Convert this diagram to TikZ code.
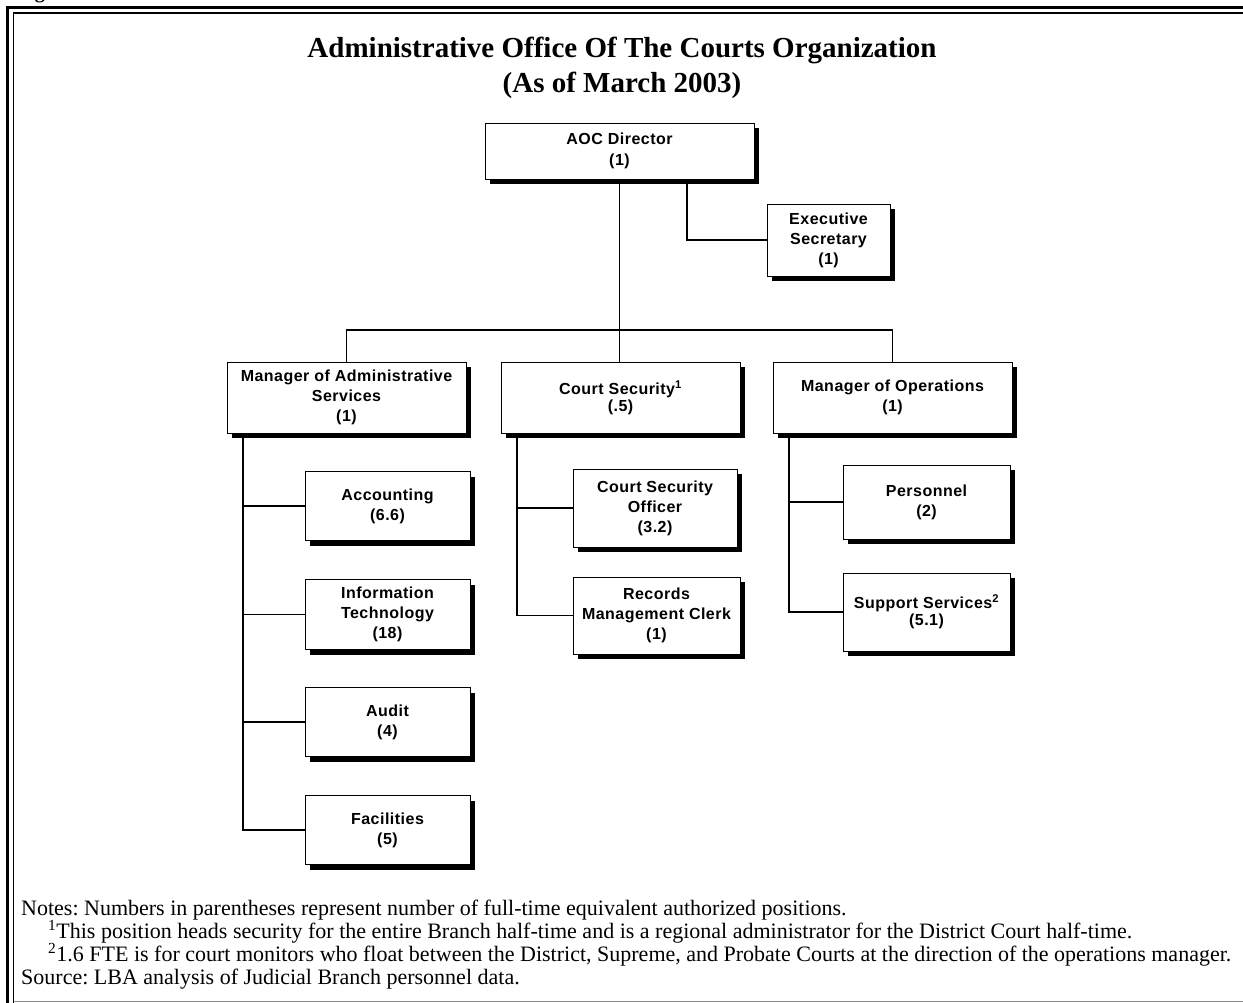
\documentclass[tikz,border=0pt]{standalone}
\usepackage{fontspec}
\setmainfont{Liberation Serif}
\newfontfamily\boxfont[LetterSpace=3]{Liberation Sans}
\usetikzlibrary{shadows}

\tikzset{
  orgbox/.style={draw, line width=0.9pt, fill=white, align=center,
    inner sep=0pt, font=\boxfont\bfseries\fontsize{16}{20}\selectfont,
    drop shadow={shadow xshift=5pt, shadow yshift=-5pt, fill=black, opacity=1}},
  link/.style={line width=1.7pt},
  notetext/.style={anchor=base west, inner sep=0pt,
    font=\frenchspacing\fontsize{22}{24}\selectfont},
}

\begin{document}
\begin{tikzpicture}[x=1pt, y=-1pt]
\useasboundingbox (0,0) rectangle (1243,1003);

% caption above the frame (only its descender reaches the page)
\node[anchor=base west, inner sep=0pt, font=\bfseries\fontsize{20}{24}\selectfont]
  (caption) at (17,-1) {Figure 4};

% page frame: heavy outer rule, thin inner rule, grey foot rule
\draw[line width=3pt] (7.5,1003) -- (7.5,7.5) -- (1243,7.5);
\draw[line width=1.5pt] (13.5,1003) -- (13.5,13) -- (1243,13);
\draw[line width=1.5pt, black!45] (13.5,1001.5) -- (1243,1001.5);

% heading
\node[align=center, font=\bfseries\fontsize{29}{35}\selectfont] (title) at (622,68)
  {Administrative Office Of The Courts Organization\\(As of March 2003)};

% boxes
\node[orgbox, minimum width=269pt, minimum height=56pt] (aoc) at (619.5,151)
  {AOC Director\\[1pt](1)};
\node[orgbox, minimum width=123pt, minimum height=72pt] (exec) at (828.5,240)
  {Executive\\Secretary\\(1)};

\node[orgbox, minimum width=239pt, minimum height=71pt] (adm) at (346.5,397.5)
  {Manager of Administrative\\Services\\(1)};
\node[orgbox, minimum width=239pt, minimum height=71pt] (sec) at (620.5,397.5)
  {Court Security\textsuperscript{1}\\[-3pt](.5)};
\node[orgbox, minimum width=239pt, minimum height=71pt] (ops) at (892.5,397.5)
  {Manager of Operations\\(1)};

\node[orgbox, minimum width=165pt, minimum height=69pt] (acct) at (387.5,506)
  {Accounting\\(6.6)};
\node[orgbox, minimum width=165pt, minimum height=70pt] (it) at (387.5,614.5)
  {Information\\Technology\\(18)};
\node[orgbox, minimum width=165pt, minimum height=69pt] (audit) at (387.5,722)
  {Audit\\(4)};
\node[orgbox, minimum width=165pt, minimum height=69pt] (fac) at (387.5,830)
  {Facilities\\(5)};

\node[orgbox, minimum width=164pt, minimum height=78pt] (cso) at (655,508)
  {Court Security\\Officer\\(3.2)};
\node[orgbox, minimum width=167pt, minimum height=77pt] (rmc) at (656.5,615.5)
  {Records\\Management Clerk\\(1)};

\node[orgbox, minimum width=167pt, minimum height=74pt] (pers) at (926.5,502)
  {Personnel\\(2)};
\node[orgbox, minimum width=167pt, minimum height=78pt] (sup) at (926.5,612)
  {Support Services\textsuperscript{2}\\[-3pt](5.1)};

% connectors
\coordinate (busL) at (346.5,330);
\coordinate (busR) at (892.5,330);
\draw[link] (aoc.south) -- (aoc.south |- sec.north);
\draw[link] ([xshift=67.5pt]aoc.south) |- (exec.west);
\draw[link] (adm.north) -- (busL) -- (busR) -- (ops.north);

\draw[link] ([xshift=-103.5pt]adm.south) |- (fac.west);
\draw[link] ([xshift=-103.5pt]adm.south |- acct.west) -- (acct.west);
\draw[link] ([xshift=-103.5pt]adm.south |- it.west) -- (it.west);
\draw[link] ([xshift=-103.5pt]adm.south |- audit.west) -- (audit.west);

\draw[link] ([xshift=-103.5pt]sec.south) |- (rmc.west);
\draw[link] ([xshift=-103.5pt]sec.south |- cso.west) -- (cso.west);

\draw[link] ([xshift=-103.5pt]ops.south) |- (sup.west);
\draw[link] ([xshift=-103.5pt]ops.south |- pers.west) -- (pers.west);

% notes
\node[notetext] (n1) at (21,915)
  {Notes: Numbers in parentheses represent number of full-time equivalent authorized positions.};
\node[notetext] (n2) at (48,938)
  {\textsuperscript{1}This position heads security for the entire Branch half-time and is a regional administrator for the District Court half-time.};
\node[notetext] (n3) at (48,961)
  {\textsuperscript{2}1.6 FTE is for court monitors who float between the District, Supreme, and Probate Courts at the direction of the operations manager.};
\node[notetext] (src) at (21,984)
  {Source: LBA analysis of Judicial Branch personnel data.};
\end{tikzpicture}
\end{document}
